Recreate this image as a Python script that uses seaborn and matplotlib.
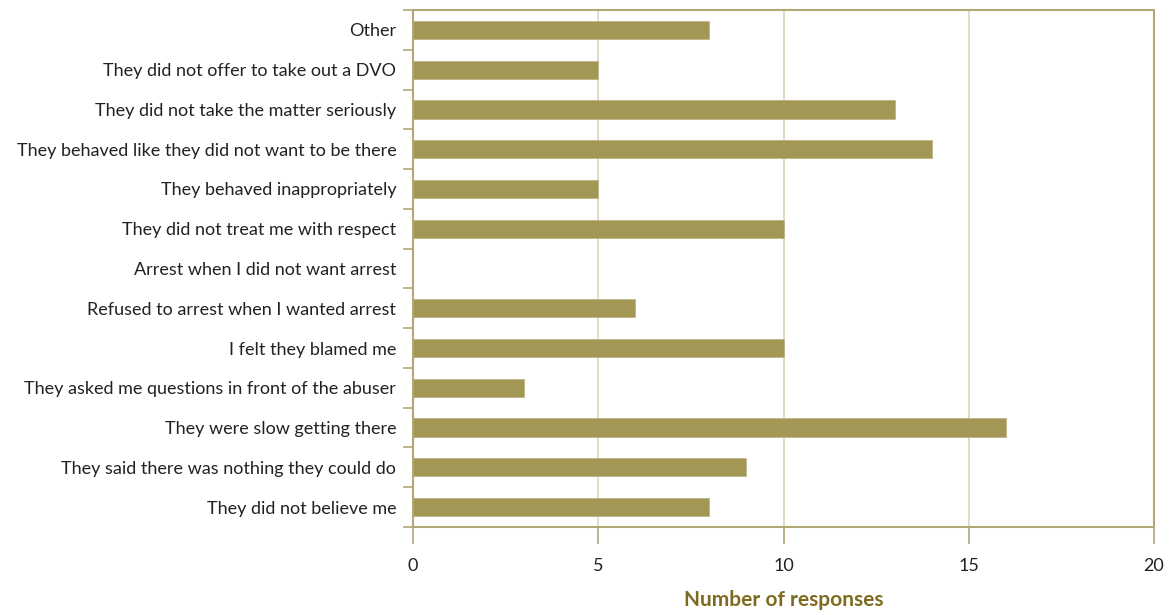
import matplotlib
matplotlib.use("Agg")
import matplotlib.pyplot as plt
import seaborn as sns
import pandas as pd
import numpy as np
from matplotlib.ticker import FixedLocator

categories = [
    "Other",
    "They did not offer to take out a DVO",
    "They did not take the matter seriously",
    "They behaved like they did not want to be there",
    "They behaved inappropriately",
    "They did not treat me with respect",
    "Arrest when I did not want arrest",
    "Refused to arrest when I wanted arrest",
    "I felt they blamed me",
    "They asked me questions in front of the abuser",
    "They were slow getting there",
    "They said there was nothing they could do",
    "They did not believe me",
]
responses = [8, 5, 13, 14, 5, 10, 0, 6, 10, 3, 16, 9, 8]
x_ticks = [0, 5, 10, 15, 20]

sns.set_theme(style="white")
plt.rcParams["font.family"] = ["Lato", "DejaVu Sans"]

df = pd.DataFrame({"category": categories, "responses": responses})

fig = plt.figure(figsize=(11.76, 6.15), dpi=100)
ax = fig.add_axes([413 / 1176, 1 - 527 / 615, (1154 - 413) / 1176, (527 - 10) / 615])

bar_color = "#A39755"
frame_color = "#B3A777"
grid_color = "#DDD6BC"

sns.barplot(data=df, x="responses", y="category", orient="h", color=bar_color,
            width=0.46, saturation=1, ax=ax, edgecolor="#BDB487", linewidth=0.6)

ax.set_xlim(0, 20)
ax.set_ylim(len(categories) - 0.5, -0.5)
ax.set_xticks(x_ticks)
ax.set_xticklabels([str(t) for t in x_ticks], fontsize=13, color="#222222")
ax.xaxis.grid(True, color=grid_color, linewidth=1.2)
ax.set_axisbelow(True)

ax.tick_params(axis="x", which="major", length=12, width=1.2, color=frame_color,
               direction="out", pad=10, bottom=True)
ax.tick_params(axis="y", which="major", length=0, pad=12, labelsize=13, labelcolor="#222222")
ax.yaxis.set_minor_locator(FixedLocator(np.arange(-0.5, len(categories), 1.0)))
ax.tick_params(axis="y", which="minor", length=7, width=1.2, color=frame_color, left=True)

for s in ax.spines.values():
    s.set_visible(True)
    s.set_color(frame_color)
    s.set_linewidth(1.5)

ax.set_ylabel("")
ax.set_xlabel("Number of responses", fontsize=15, fontweight="bold", color="#7D6C1F", labelpad=12)

fig.savefig("out.png", dpi=100)
